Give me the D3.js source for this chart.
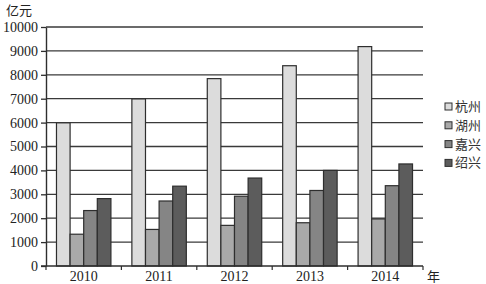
<!DOCTYPE html>
<html>
<head>
<meta charset="utf-8">
<script src="https://cdn.jsdelivr.net/npm/d3@7"></script>
<style>
  body { margin: 0; background: #fff; }
  svg { display: block; }
</style>
</head>
<body>
<div id="chart"></div>
<script>
// data
const years = ["2010", "2011", "2012", "2013", "2014"];
const cities = ["杭州", "湖州", "嘉兴", "绍兴"];
const hangzhou = [5990, 6990, 7840, 8380, 9180];
const huzhou = [1330, 1530, 1700, 1810, 1970];
const jiaxing = [2320, 2720, 2920, 3160, 3360];
const shaoxing = [2820, 3340, 3680, 4000, 4270];
const yTicks = [0, 1000, 2000, 3000, 4000, 5000, 6000, 7000, 8000, 9000, 10000];

const series = [hangzhou, huzhou, jiaxing, shaoxing];
const colors = ["#dcdcdc", "#a9a9a9", "#858585", "#5c5c5c"];

const width = 486, height = 284;
const margin = { left: 46, right: 63, top: 27, bottom: 18 };

const svg = d3.select("#chart")
    .append("svg")
    .attr("width", width)
    .attr("height", height);

const serif = "'Liberation Serif', 'DejaVu Serif', serif";
const cjk = "'Noto Sans CJK SC', sans-serif";

const xScale = d3.scaleBand()
    .domain(years)
    .range([margin.left, width - margin.right])
    .paddingInner(0)
    .paddingOuter(0);

const yScale = d3.scaleLinear()
    .domain([0, 10000])
    .range([height - margin.bottom, margin.top]);

const inner = d3.scaleBand()
    .domain(cities)
    .range([0, xScale.bandwidth()])
    .paddingOuter(0.77)
    .paddingInner(0);

// grid lines
svg.append("g")
    .selectAll("line")
    .data(yTicks.slice(1))
    .enter()
    .append("line")
    .attr("x1", margin.left)
    .attr("x2", width - margin.right)
    .attr("y1", d => yScale(d))
    .attr("y2", d => yScale(d))
    .attr("stroke", "#3a3a3a")
    .attr("stroke-width", 1.3);

// bars
const groups = svg.append("g")
    .selectAll("g")
    .data(years)
    .enter()
    .append("g")
    .attr("transform", d => "translate(" + xScale(d) + ",0)");

groups.selectAll("rect")
    .data((y, i) => series.map((s, j) => ({ city: cities[j], value: s[i], color: colors[j] })))
    .enter()
    .append("rect")
    .attr("x", d => inner(d.city))
    .attr("y", d => yScale(d.value))
    .attr("width", inner.bandwidth())
    .attr("height", d => yScale(0) - yScale(d.value))
    .attr("fill", d => d.color)
    .attr("stroke", "#2e2e2e")
    .attr("stroke-width", 1.2);

// y axis
const yAxis = d3.axisLeft(yScale).tickValues(yTicks).tickSize(5).tickSizeOuter(0).tickFormat(d3.format("d"));
const yg = svg.append("g")
    .attr("transform", "translate(" + margin.left + ",0)")
    .call(yAxis);
yg.select(".domain").attr("stroke", "#2e2e2e").attr("stroke-width", 1.4);
yg.selectAll(".tick line").attr("stroke", "#2e2e2e").attr("stroke-width", 1.3);
yg.selectAll("text")
    .attr("font-family", serif)
    .attr("font-size", "14px")
    .attr("fill", "#222")
    .attr("x", -8);

// x axis, ticks at band edges
const xg = svg.append("g")
    .attr("transform", "translate(0," + yScale(0) + ")");
xg.append("line")
    .attr("x1", margin.left - 5)
    .attr("x2", width - margin.right)
    .attr("stroke", "#2e2e2e")
    .attr("stroke-width", 1.4);
xg.selectAll(".xt")
    .data(years.map(y => xScale(y)).concat([width - margin.right]))
    .enter()
    .append("line")
    .attr("class", "xt")
    .attr("x1", d => d)
    .attr("x2", d => d)
    .attr("y1", 0)
    .attr("y2", 4)
    .attr("stroke", "#2e2e2e")
    .attr("stroke-width", 1.2);
xg.selectAll(".xl")
    .data(years)
    .enter()
    .append("text")
    .attr("class", "xl")
    .attr("x", d => xScale(d) + xScale.bandwidth() / 2)
    .attr("y", 15)
    .attr("text-anchor", "middle")
    .attr("font-family", serif)
    .attr("font-size", "14px")
    .attr("fill", "#222")
    .text(d => d);

// axis titles
svg.append("text")
    .attr("x", 6)
    .attr("y", 15)
    .attr("font-family", cjk)
    .attr("font-size", "13px")
    .attr("fill", "#222")
    .text("亿元");
svg.append("text")
    .attr("x", width - margin.right + 4)
    .attr("y", yScale(0) + 15)
    .attr("font-family", cjk)
    .attr("font-size", "13px")
    .attr("fill", "#222")
    .text("年");

// legend
const legend = svg.append("g")
    .selectAll("g")
    .data(cities)
    .enter()
    .append("g")
    .attr("transform", (d, i) => "translate(445," + (103 + i * 18.8) + ")");
legend.append("rect")
    .attr("width", 7)
    .attr("height", 7)
    .attr("fill", (d, i) => colors[i])
    .attr("stroke", "#2e2e2e")
    .attr("stroke-width", 1);
legend.append("text")
    .attr("x", 10)
    .attr("y", 8)
    .attr("font-family", cjk)
    .attr("font-size", "13px")
    .attr("fill", "#333")
    .text(d => d);
</script>
</body>
</html>
